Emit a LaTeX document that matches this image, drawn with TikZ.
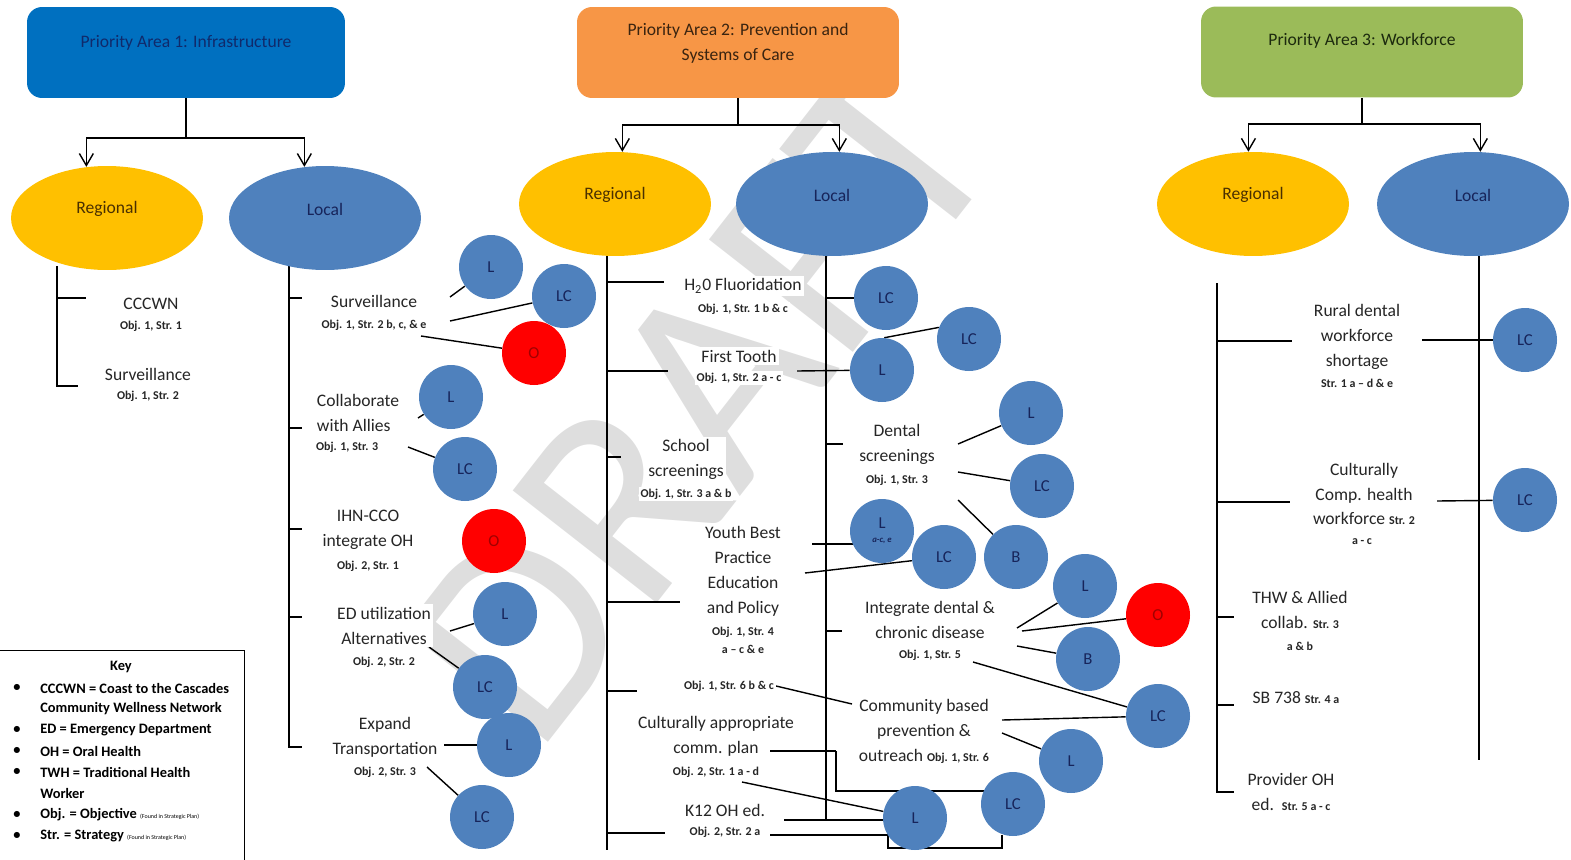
\documentclass[tikz,border=0pt]{standalone}
\usepackage{fontspec}
\setmainfont{Carlito}
\usetikzlibrary{arrows.meta,shapes.geometric}
\definecolor{paBlue}{HTML}{0070C0}
\definecolor{paOrange}{HTML}{F79646}
\definecolor{paGreen}{HTML}{9BBB59}
\definecolor{regY}{HTML}{FFC000}
\definecolor{locB}{HTML}{4F81BD}
\definecolor{navyT}{HTML}{17245A}
\definecolor{brownT}{HTML}{4A3000}
\definecolor{redO}{HTML}{FF0000}
\definecolor{redT}{HTML}{A00000}
\definecolor{txt}{HTML}{262626}
\definecolor{paoneT}{HTML}{102A6B}
\definecolor{patwoT}{HTML}{3A2410}
\definecolor{pathreeT}{HTML}{1C2A0E}
\definecolor{wmGray}{HTML}{DEDEDE}
\newcommand{\mainf}{\fontsize{10}{14.2}\selectfont}
\newcommand{\objf}{\fontsize{6.8}{10.6}\selectfont\bfseries}
\newcommand{\keyf}{\fontsize{8.2}{11.9}\selectfont\bfseries}
\newcommand{\circf}{\fontsize{9.5}{11}\selectfont}
\newcommand{\tinyf}{\fontsize{3.4}{4}\selectfont\mdseries}
\pgfdeclarelayer{wmlayer}
\pgfdeclarelayer{edgelayer}
\pgfsetlayers{wmlayer,edgelayer,main}
\tikzset{
  headbox/.style={rectangle, rounded corners=0.3cm, minimum height=1.82cm, inner sep=0},
  headtxt/.style={font=\mainf, align=center, inner sep=0},
  ell/.style={ellipse, minimum width=3.84cm, minimum height=2.08cm, inner sep=0},
  regE/.style={ell, fill=regY, label={[font=\mainf, text=brownT, yshift=0.18cm]center:Regional}},
  locE/.style={ell, fill=locB, label={[font=\mainf, text=navyT, yshift=0.18cm]center:Local}},
  lbl/.style={font=\mainf, align=center, fill=white, inner sep=1.5pt, text=txt},
  lbll/.style={lbl, align=left},
  objl/.style={font=\objf, align=center, fill=white, inner sep=1pt, text=txt},
  bc/.style={circle, minimum size=1.28cm, inner sep=0, fill=locB, text=navyT, font=\circf},
  rc/.style={bc, fill=redO, text=redT},
  conn/.style={draw=black, line width=0.8pt},
  arr/.style={conn, -{Straight Barb[length=2.4mm, width=2.8mm]}},
  keyt/.style={font=\keyf, anchor=west, inner sep=0, text=black},
  wmark/.style={rotate=52, text=wmGray, font=\fontsize{162}{162}\selectfont, inner sep=0},
}
\begin{document}
\begin{tikzpicture}[x=0.02cm,y=-0.02cm]
\useasboundingbox (0,0) rectangle (1571,859);

\begin{pgfonlayer}{wmlayer}
\node[wmark] (wm) at (700,400) {DRAFT};
\end{pgfonlayer}

% ---------- headers ----------
\node[headbox, minimum width=6.36cm, fill=paBlue] (pa1) at (186,52.5) {};
\node[headtxt, text=paoneT] (pa1t) at (186,43) {Priority Area 1: Infrastructure};
\node[headbox, minimum width=6.44cm, fill=paOrange] (pa2) at (738,52.5) {};
\node[headtxt, text=patwoT] (pa2t) at (738,43) {Priority Area 2: Prevention and\\Systems of Care};
\node[headbox, minimum width=6.44cm, fill=paGreen] (pa3) at (1362,52) {};
\node[headtxt, text=pathreeT] (pa3t) at (1362,41) {Priority Area 3: Workforce};

% ---------- ellipses ----------
\node[regE] (r1) at (107,218) {};
\node[locE] (l1) at (325,218) {};
\node[regE] (r2) at (615,204) {};
\node[locE] (l2) at (832,204) {};
\node[regE] (r3) at (1253,204) {};
\node[locE] (l3) at (1473,204) {};

% ---------- PA1 regional ----------
\node[lbl] (cccwn) at (151,304) {CCCWN};
\node[objl] (cccwno) at (151,326) {Obj. 1, Str. 1};
\node[lbl] (rsurv) at (148,374) {Surveillance};
\node[objl] (rsurvo) at (148,396) {Obj. 1, Str. 2};

% ---------- PA1 local ----------
\node[lbl] (lsurv) at (374,301) {Surveillance};
\node[objl] (lsurvo) at (374,325) {Obj. 1, Str. 2 b, c, \& e};
\node[lbll, anchor=west] (collab) at (314,412.5) {Collaborate\\with Allies};
\node[objl, anchor=west] (collabo) at (314,447) {Obj. 1, Str. 3};
\node[lbl] (ihn) at (368,530) {IHN-CCO\\integrate OH};
\node[objl] (ihno) at (368,566) {Obj. 2, Str. 1};
\node[lbl] (edu) at (384,625.5) {ED utilization\\Alternatives};
\node[objl] (eduo) at (384,662) {Obj. 2, Str. 2};
\node[lbl] (expd) at (385,737) {Expand\\Transportation};
\node[objl] (expdo) at (385,772) {Obj. 2, Str. 3};

\node[bc] (c1) at (491,267) {L};
\node[bc] (c2) at (564,296) {LC};
\node[rc] (c3) at (534,353) {O};
\node[bc] (c4) at (451,397) {L};
\node[bc] (c5) at (465,469) {LC};
\node[rc] (c6) at (494,541) {O};
\node[bc] (c7) at (505,614) {L};
\node[bc] (c8) at (485,687) {LC};
\node[bc] (c9) at (509,745) {L};
\node[bc] (c10) at (482,817) {LC};

% ---------- PA2 regional ----------
\node[lbl] (h2o) at (743,286) {H\textsubscript{2}0 Fluoridation};
\node[objl] (h2oo) at (743,309) {Obj. 1, Str. 1 b \& c};
\node[lbl] (ftooth) at (739,356) {First Tooth};
\node[objl] (ftootho) at (739,378) {Obj. 1, Str. 2 a - c};
\node[lbl] (school) at (686,459.5) {School\\screenings};
\node[objl] (schoolo) at (686,494) {Obj. 1, Str. 3 a \& b};
\node[lbl] (youth) at (743,571) {Youth Best\\Practice\\Education\\and Policy};
\node[objl] (youtho) at (743,640.5) {Obj. 1, Str. 4\\a -- c \& e};
\node[objl] (obj6) at (729,686) {Obj. 1, Str. 6 b \& c};
\node[lbl] (cult) at (716,736.5) {Culturally appropriate\\comm. plan};
\node[objl] (culto) at (716,772) {Obj. 2, Str. 1 a - d};
\node[lbl] (k12) at (725,810) {K12 OH ed.};
\node[objl] (k12o) at (725,832) {Obj. 2, Str. 2 a};

% ---------- PA2 local ----------
\node[lbl] (dental) at (897,444) {Dental\\screenings};
\node[objl] (dentalo) at (897,480) {Obj. 1, Str. 3};
\node[lbl] (integ) at (930,620) {Integrate dental \&\\chronic disease};
\node[objl] (intego) at (930,655) {Obj. 1, Str. 5};
\node[lbl] (comm) at (924,731) {Community based\\prevention \&\\outreach {\objf Obj. 1, Str. 6}};

\node[bc] (d1) at (886,298) {LC};
\node[bc] (d2) at (969,339) {LC};
\node[bc] (d3) at (882,370) {L};
\node[bc] (d4) at (1031,413) {L};
\node[bc] (d5) at (1042,486) {LC};
\node[bc, align=center] (d6) at (882,531) {L\\[-3pt]{\fontsize{5}{5}\selectfont\bfseries\itshape a-c, e}};
\node[bc] (d7) at (944,557) {LC};
\node[bc] (d8) at (1016,557) {B};
\node[bc] (d9) at (1085,586) {L};
\node[rc] (d10) at (1158,615) {O};
\node[bc] (d11) at (1088,659) {B};
\node[bc] (d12) at (1158,716) {LC};
\node[bc] (d13) at (1071,761) {L};
\node[bc] (d14) at (1013,804) {LC};
\node[bc] (d15) at (915,818) {L};

% ---------- PA3 ----------
\node[lbl] (rural) at (1357,337) {Rural dental\\workforce\\shortage};
\node[objl] (ruralo) at (1357,383) {Str. 1 a -- d \& e};
\node[lbl] (cultc) at (1364,494) {Culturally\\Comp. health\\workforce {\objf Str. 2}};
\node[objl] (cultco) at (1362,542) {a - c};
\node[lbl] (thw) at (1300,609.5) {THW \& Allied\\collab. {\objf Str. 3}};
\node[objl] (thwo) at (1300,646) {a \& b};
\node[lbl] (sb) at (1296,698) {SB 738 {\objf Str. 4 a}};
\node[lbl] (prov) at (1291,792) {Provider OH\\ed. {\objf\ Str. 5 a - c}};

\node[bc] (e1) at (1525,340) {LC};
\node[bc] (e2) at (1525,500) {LC};

% ---------- key ----------
\node[draw=black, line width=0.7pt, minimum width=4.94cm, minimum height=4.4cm, anchor=north west, inner sep=0] (keybox) at (-3,650) {};
\node[font=\keyf] (keyT) at (121,667) {Key};
\node[keyt] (k1) at (40,688) {CCCWN = Coast to the Cascades};
\node[keyt] (k2) at (40,709) {Community Wellness Network};
\node[keyt] (k3) at (40,730) {ED = Emergency Department};
\node[keyt] (k4) at (40,751) {OH = Oral Health};
\node[keyt] (k5) at (40,772) {TWH = Traditional Health};
\node[keyt] (k6) at (40,793) {Worker};
\node[keyt] (k7) at (40,815) {Obj. = Objective {\tinyf (Found in Strategic Plan)}};
\node[keyt] (k8) at (40,836) {Str. = Strategy {\tinyf (Found in Strategic Plan)}};
\foreach \yy/\nm in {688/kb1,730/kb2,751/kb3,772/kb4,815/kb5,836/kb6}
  \node[font=\keyf] (\nm) at (17,\yy) {\textbullet};

% ---------- coordinates ----------
\coordinate (j1) at (186,138);
\coordinate (j2) at (738,125);
\coordinate (j3) at (1362,124);
\coordinate (sA) at (57,266);  \coordinate (tA1) at (86,298);  \coordinate (tA2) at (78,386);
\coordinate (sB) at (289,266);
\coordinate (tB1) at (302,298); \coordinate (tB2) at (302,428); \coordinate (tB3) at (302,529);
\coordinate (tB4) at (302,617); \coordinate (tB5) at (302,747);
\coordinate (sC) at (607,255); \coordinate (sCe) at (607,850);
\coordinate (tC1) at (664,282); \coordinate (tC2) at (668,371); \coordinate (tC3) at (621,457);
\coordinate (tC4) at (680,602); \coordinate (tC5) at (637,691); \coordinate (tC6) at (665,833);
\coordinate (sD) at (826,255); \coordinate (sDe) at (826,820);
\coordinate (tD2) at (843,444); \coordinate (tD3) at (842,631);
\coordinate (sE) at (1217,283);
\coordinate (tE1) at (1292,341); \coordinate (tE2) at (1290,502); \coordinate (tE3) at (1234,617);
\coordinate (tE4) at (1234,705); \coordinate (tE5) at (1234,792);
\coordinate (sF) at (1479,255); \coordinate (sFe) at (1479,760);
\coordinate (q1) at (450,297);  \coordinate (q2) at (450,321);  \coordinate (q3) at (421,336);
\coordinate (q4) at (418,418);  \coordinate (q5) at (408,447);  \coordinate (q6) at (450,631);
\coordinate (q7) at (429,647);  \coordinate (q8) at (444,745);  \coordinate (q9) at (427,767);
\coordinate (q10) at (958,444); \coordinate (q11) at (958,472); \coordinate (q12) at (958,500);
\coordinate (q13) at (805,573); \coordinate (q14) at (1017,628); \coordinate (q15) at (1022,631);
\coordinate (q16) at (1017,646); \coordinate (q17) at (973,662); \coordinate (q18) at (1002,720);
\coordinate (q19) at (1002,733); \coordinate (q20) at (770,751); \coordinate (q21) at (836,791);
\coordinate (q22) at (742,782); \coordinate (q23) at (784,820); \coordinate (q24) at (770,835);
\coordinate (q25) at (888,848); \coordinate (q26) at (1002,835); \coordinate (q27) at (797,371);
\coordinate (q28) at (812,544); \coordinate (q29) at (1422,340); \coordinate (q30) at (1437,501);
\coordinate (q31) at (852,704);

% comm plan start segment (on top of its text box)
\draw[conn] (q20) -- (q20 -| q21);

\begin{pgfonlayer}{edgelayer}
% header arrows
\draw[conn] (pa1.south) -- (j1);
\draw[arr] (j1) -| (r1.112);
\draw[arr] (j1) -| (l1.112);
\draw[conn] (pa2.south) -- (j2);
\draw[arr] (j2) -| (r2.82);
\draw[arr] (j2) -| (l2.82);
\draw[conn] (pa3.south) -- (j3);
\draw[arr] (j3) -| (r3.95);
\draw[arr] (j3) -| (l3.82);
% spines
\draw[conn] (sA) |- (tA2);
\draw[conn] (sA |- tA1) -- (tA1);
\draw[conn] (sB) |- (tB5);
\foreach \t in {tB1,tB2,tB3,tB4} \draw[conn] (sB |- \t) -- (\t);
\draw[conn] (sC) -- (sCe);
\foreach \t in {tC1,tC2,tC3,tC4,tC5,tC6} \draw[conn] (sC |- \t) -- (\t);
\draw[conn] (sD) -- (sDe);
\draw[conn] (sD |- d1) -- (d1);
\foreach \t in {tD2,tD3} \draw[conn] (sD |- \t) -- (\t);
\draw[conn] (sE) |- (tE5);
\foreach \t in {tE1,tE2,tE3,tE4} \draw[conn] (sE |- \t) -- (\t);
\draw[conn] (sF) -- (sFe);
% PA1 local connectors
\draw[conn] (q1) -- (c1);
\draw[conn] (q2) -- (c2);
\draw[conn] (q3) -- (c3);
\draw[conn] (q4) -- (c4);
\draw[conn] (q5) -- (c5);
\draw[conn] (q6) -- (c7);
\draw[conn] (q7) -- (c8);
\draw[conn] (q8) -- (c9);
\draw[conn] (q9) -- (c10);
% PA2 connectors
\draw[conn] (q27) -- (d3);
\draw[conn] (d3.86) -- (d2.159);
\draw[conn] (q10) -- (d4);
\draw[conn] (q11) -- (d5);
\draw[conn] (q12) -- (d8);
\draw[conn] (q28) -- (q28 -| d6.center);
\draw[conn] (q13) -- (d7);
\draw[conn] (q14) -- (d9);
\draw[conn] (q15) -- (d10);
\draw[conn] (q16) -- (d11);
\draw[conn] (q17) -- (d12);
\draw[conn] (q18) -- (d12);
\draw[conn] (q19) -- (d13);
\draw[conn] (obj6.east) -- (q31);
\draw[conn] (q20 -| q21) -- (q21) -- (q21 -| d14.center);
\draw[conn] (q22) -- (d15);
\draw[conn] (q23) -- (q23 -| d15.center);
\draw[conn] (q24) -- (q24 -| q25) -- (q25) -- (q25 -| q26) -- (q26);
% PA3 connectors
\draw[conn] (q29) -- (e1);
\draw[conn] (q30) -- (e2);
\end{pgfonlayer}
\end{tikzpicture}
\end{document}
